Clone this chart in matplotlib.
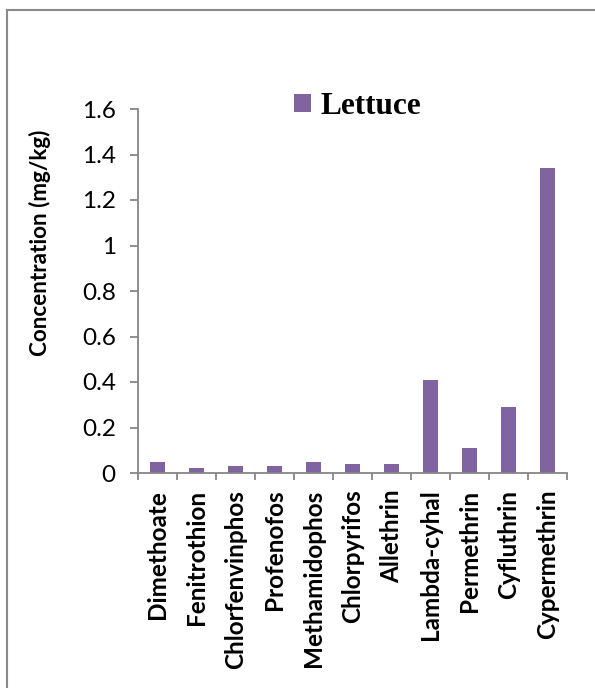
import matplotlib.pyplot as plt
from matplotlib.lines import Line2D

# pesticide residues measured in lettuce
pesticides = ['Dimethoate', 'Fenitrothion', 'Chlorfenvinphos', 'Profenofos',
              'Methamidophos', 'Chlorpyrifos', 'Allethrin', 'Lambda-cyhal',
              'Permethrin', 'Cyfluthrin', 'Cypermethrin']
lettuce = [0.05, 0.02, 0.03, 0.03, 0.05, 0.04, 0.04, 0.41, 0.11, 0.29, 1.34]
yticks = [0, 0.2, 0.4, 0.6, 0.8, 1, 1.2, 1.4, 1.6]
yticklabels = ['0', '0.2', '0.4', '0.6', '0.8', '1', '1.2', '1.4', '1.6']

W, H = 595, 688
fig = plt.figure(figsize=(W / 100, H / 100), dpi=100)
ax = fig.add_axes([138 / W, 1 - 473 / H, 429 / W, 364 / H])

purple = '#8064A2'
grey = '#868686'

x = range(len(pesticides))
ax.bar(x, lettuce, width=0.4, color=purple, label='Lettuce', zorder=2)

ax.set_xlim(-0.5, len(pesticides) - 0.5)
ax.set_ylim(0, 1.6)

# category ticks sit between the bars
ax.set_xticks([i - 0.5 for i in range(len(pesticides) + 1)])
ax.set_xticklabels([])
ax.set_xticks(list(x), minor=True)
ax.set_xticklabels(pesticides, minor=True, rotation=90, fontfamily='Lato',
                   fontweight='bold', fontsize=17.5)
ax.tick_params(axis='x', which='major', direction='out', length=5, width=1.3, color=grey)
ax.tick_params(axis='x', which='minor', length=0, pad=12)

ax.set_yticks(yticks)
ax.set_yticklabels(yticklabels, fontfamily='Lato', fontsize=17.5)
ax.tick_params(axis='y', direction='out', length=6, width=1.3, color=grey, pad=10)

for s in ['top', 'right']:
    ax.spines[s].set_visible(False)
for s in ['left', 'bottom']:
    ax.spines[s].set_color(grey)
    ax.spines[s].set_linewidth(1.3)

ax.set_ylabel('Concentration (mg/kg)', fontfamily='Lato', fontweight='bold',
              fontsize=16.2)
ax.yaxis.set_label_coords(-0.203, 0.632)

leg = ax.legend(loc='upper left', bbox_to_anchor=(294 / W, 1 - 92 / H),
                bbox_transform=fig.transFigure, frameon=False,
                prop={'family': 'Liberation Serif', 'weight': 'bold', 'size': 22.5},
                handlelength=0.55, handleheight=0.55, handletextpad=0.3,
                borderpad=0, borderaxespad=0)

# outer chart border (left and top edges)
fig.add_artist(Line2D([7 / W, 7 / W], [0, 1 - 10 / H], color='#8a8a8a', lw=1.5,
                      transform=fig.transFigure))
fig.add_artist(Line2D([7 / W, 1], [1 - 10 / H, 1 - 10 / H], color='#8a8a8a', lw=1.5,
                      transform=fig.transFigure))

fig.savefig('out.png', dpi=100)
